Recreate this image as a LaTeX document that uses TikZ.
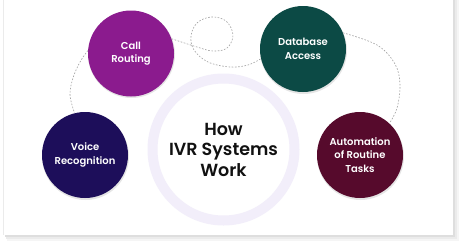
\documentclass[tikz,border=0pt]{standalone}
\usepackage{fontspec}
\setmainfont{Poppins}[BoldFont={Poppins SemiBold}]
\definecolor{cpurple}{HTML}{8B1B8E}
\definecolor{cindigo}{HTML}{1D0E5A}
\definecolor{cteal}{HTML}{0C4A45}
\definecolor{cmaroon}{HTML}{560A2C}
\definecolor{clav}{HTML}{F2EEFA}
\definecolor{cdash}{HTML}{A0A0A0}
\definecolor{ctext}{HTML}{111111}
\begin{document}
\begin{tikzpicture}[x=1pt,y=-1pt,
  bubble/.style={circle, minimum size=86pt, inner sep=0pt, text=white,
    font=\bfseries\fontsize{10}{13.5}\selectfont, align=center},
  bshadow/.style={circle, minimum size=87pt, inner sep=0pt, fill=black, opacity=0.10},
  link/.style={draw=cdash, line width=0.6pt, dash pattern=on 1.6pt off 1.6pt},
  hubstyle/.style={circle, minimum size=142pt, inner sep=0pt, draw=clav, line width=10pt,
    fill=white, text=ctext, font=\bfseries\fontsize{17.5}{20.5}\selectfont, align=center}]
\useasboundingbox (0,0) rectangle (460,244);
% card with shadow
\fill[black!4] (7,-5) rectangle (459,241);
\fill[black!8] (6,-5) rectangle (457,239);
\fill[black!13] (5,-5) rectangle (455,237);
\fill[white] (3,-5) rectangle (453,235);
\draw[black!8, line width=0.6pt] (3.3,-5) -- (3.3,235);
% hub
\node[hubstyle] (hub) at (223.5,149.5) {How\\IVR Systems\\Work};
% shadows of bubbles
\node[bshadow] (crs) at (131.5,54.5) {};
\node[bshadow] (vrs) at (85.5,156.5) {};
\node[bshadow] (dbs) at (303.5,50.5) {};
\node[bshadow] (aus) at (360.5,156.5) {};
% bubbles
\node[bubble, fill=cpurple] (cr) at (131,53.5) {Call\\Routing};
\node[bubble, fill=cindigo] (vr) at (85,155) {Voice\\Recognition};
\node[bubble, fill=cteal] (db) at (303,49) {Database\\Access};
\node[bubble, fill=cmaroon] (au) at (360,155) {Automation\\of Routine\\Tasks};
% connectors
\draw[link] plot[smooth, tension=0.6] coordinates {(cr.20) (197,47) (213,51) (227,48) (233,35) (226,21) (211,17) (197,23) (191,36) (194,50) (208,62) (230,67) (248,65) (db.193)};
\draw[link] plot[smooth, tension=0.6] coordinates {(cr.176) (80,62) (73,78) (70,95) (vr.104)};
\draw[link] plot[smooth, tension=0.6] coordinates {(db.22) (377,45) (395,64) (400,85) (397,108) (au.47)};
\end{tikzpicture}
\end{document}
